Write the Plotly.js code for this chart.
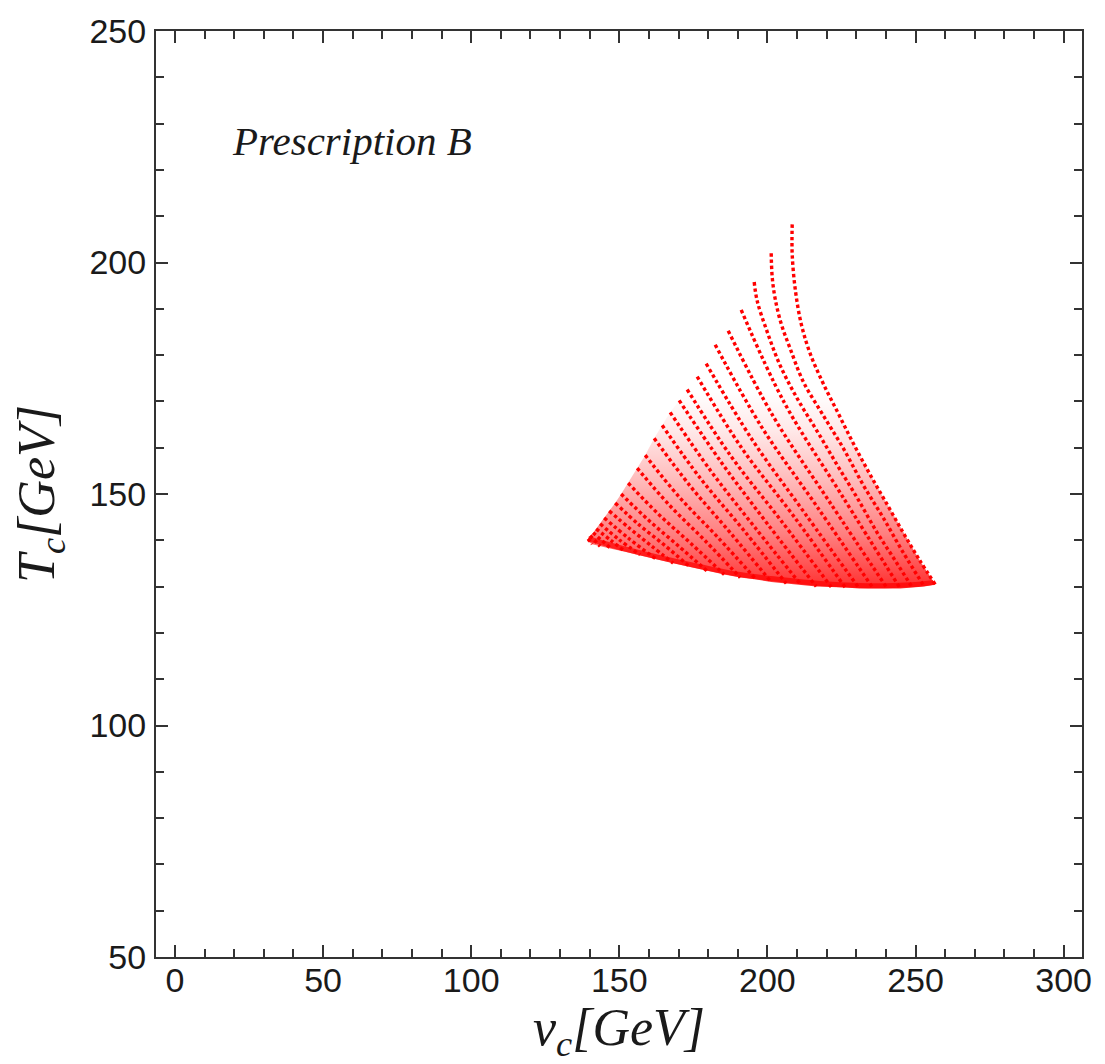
<!DOCTYPE html>
<html>
<head>
<meta charset="utf-8">
<script src="https://cdn.plot.ly/plotly-3.0.1.min.js"></script>
<style>
html,body{margin:0;padding:0;background:#fff;}
#chart{width:1105px;height:1064px;}
</style>
</head>
<body>
<div id="chart"></div>
<script>
// v_c [GeV] and T_c [GeV] along each scanned curve
const vcCurves = [
  [208.37,208.37,209.39,211.41,214.45,218.84,223.91,228.97,234.38,240.12,245.86,251.26,256.67],
  [201.28,201.62,202.63,204.66,207.70,212.09,218.84,225.60,232.35,239.11,245.86,252.95],
  [195.54,196.55,199.93,204.32,210.06,216.82,223.57,230.33,237.08,243.16,248.90],
  [191.15,205.67,225.26,244.85],
  [186.76,201.96,221.21,240.46],
  [182.37,197.90,216.82,235.73],
  [179.33,194.53,212.76,231.00],
  [176.29,191.15,209.05,226.27],
  [172.91,187.43,204.66,221.54],
  [170.21,184.40,200.27,216.48],
  [167.17,180.68,195.88,211.41],
  [164.47,177.30,192.16,206.35],
  [161.77,173.93,187.77,201.28],
  [158.73,170.21,183.38,196.22],
  [156.03,166.83,178.99,190.81],
  [152.99,163.12,174.26,185.41],
  [150.62,159.74,169.87,179.67],
  [148.60,156.70,165.48,173.93],
  [146.57,153.66,160.75,168.18],
  [144.88,153.32,162.44],
  [143.53,149.95,157.04],
  [142.18,147.08,151.97],
  [141.17,147.25],
  [140.15,143.53],
  [139.48,140.83]
];
const tcCurves = [
  [208.24,201.80,194.27,186.75,180.31,173.86,167.41,160.96,154.52,148.07,141.62,135.82,130.45],
  [202.01,196.85,192.13,186.75,181.38,174.29,166.98,159.89,151.94,144.85,137.33,130.02],
  [195.78,191.70,185.03,177.73,170.63,163.54,156.24,149.14,141.62,135.61,129.80],
  [189.76,169.78,149.57,129.59],
  [185.25,166.77,148.07,129.59],
  [182.24,164.62,147.21,129.59],
  [178.16,162.04,145.71,129.59],
  [175.36,160.10,145.06,129.80],
  [172.57,158.39,144.20,129.91],
  [170.21,156.88,143.34,130.02],
  [167.63,155.16,142.70,130.34],
  [164.83,153.44,142.05,130.66],
  [162.04,151.72,141.41,130.98],
  [158.39,149.36,140.55,131.52],
  [155.59,147.64,139.90,131.95],
  [152.37,145.71,139.26,132.60],
  [150.00,144.42,138.83,133.35],
  [148.07,143.34,138.83,134.21],
  [146.35,142.48,138.83,135.07],
  [144.85,140.33,135.93],
  [143.56,140.12,136.90],
  [142.48,140.01,137.54],
  [141.62,138.18],
  [140.98,138.72],
  [140.33,139.15]
];
// outline of the scanned region: upper-left edge, right edge, lower edge
const vcOutline = [139.14,140.15,141.17,142.18,143.53,144.88,146.57,148.60,150.62,152.99,156.03,158.73,161.77,164.47,167.17,170.21,172.91,176.29,179.33,182.37,186.76,191.15,195.54,201.28,208.37,
  208.37,209.39,211.41,214.45,218.84,223.91,228.97,234.38,240.12,245.86,251.26,256.67,
  252.95,248.90,244.85,240.46,235.73,231.00,226.27,221.54,216.48,211.41,206.35,201.28,196.22,190.81,185.41,179.67,173.93,168.18,162.44,157.04,151.97,147.25,143.53,140.83,139.14];
const tcOutline = [139.90,140.98,141.62,142.48,143.56,144.85,146.35,148.07,150.00,152.37,155.59,158.39,162.04,164.83,167.63,170.21,172.57,175.36,178.16,182.24,185.25,189.76,195.78,202.01,208.24,
  201.80,194.27,186.75,180.31,173.86,167.41,160.96,154.52,148.07,141.62,135.82,130.45,
  130.02,129.80,129.59,129.59,129.59,129.59,129.80,129.91,130.02,130.34,130.66,130.98,131.52,131.95,132.60,133.35,134.21,135.07,135.93,136.90,137.54,138.18,138.72,139.15,139.90];
// dense band along the lower edge
const vcBand = [139.48,150.29,163.79,177.30,190.81,204.32,217.83,231.34,242.48,249.91,255.99];
const tcBand = [140.33,138.40,136.25,134.32,132.60,131.52,130.66,130.23,130.23,130.45,130.88];

const xTicks = [0,50,100,150,200,250,300];
const yTicks = [50,100,150,200,250];

const RED = 'rgb(255,0,0)';
const traces = [];
traces.push({x: vcOutline, y: tcOutline, mode: 'lines', fill: 'toself',
  line: {width: 0, color: 'rgba(255,0,0,0)'},
  fillcolor: 'rgba(255,0,0,0.3)',
  fillgradient: {type: 'vertical', start: 129.5, stop: 172,
    colorscale: [[0, 'rgba(255,0,0,0.82)'], [0.1, 'rgba(255,0,0,0.7)'], [0.28, 'rgba(255,0,0,0.5)'],
                 [0.55, 'rgba(255,0,0,0.27)'], [0.8, 'rgba(255,0,0,0.09)'], [1, 'rgba(255,0,0,0)']]},
  hoverinfo: 'skip'});
traces.push({x: vcBand, y: tcBand, mode: 'lines', line: {color: RED, width: 5, shape: 'spline'}, opacity: 0.7, hoverinfo: 'skip'});
for (let i = 0; i < vcCurves.length; i++) {
  traces.push({x: vcCurves[i], y: tcCurves[i], mode: 'lines',
    line: {color: RED, width: 3.4, dash: '3.4px,2.8px', shape: 'spline', smoothing: 1}, hoverinfo: 'skip'});
}

const TXT = '#1a1a1a';
const axisCommon = {
  showline: true, linewidth: 2, linecolor: '#333', mirror: 'allticks',
  ticks: 'inside', ticklen: 12, tickwidth: 2, tickcolor: '#333',
  showgrid: false, zeroline: false,
  tickfont: {family: 'Liberation Sans, Arial, sans-serif', size: 34, color: TXT},
  minor: {dtick: 10, ticks: 'inside', ticklen: 8, tickwidth: 2, tickcolor: '#333', showgrid: false}
};
const layout = {
  width: 1105, height: 1064,
  margin: {l: 156, r: 23, t: 31, b: 107},
  paper_bgcolor: '#fff', plot_bgcolor: '#fff',
  showlegend: false,
  xaxis: Object.assign({}, axisCommon, {
    range: [-6.4, 306.2], tickvals: xTicks, ticktext: xTicks.map(String),
    ticklabelstandoff: -8,
    title: {text: '<i>v<sub>c</sub>[GeV]</i>', font: {family: 'Liberation Serif, Times New Roman, serif', size: 52, color: TXT}, standoff: 8}
  }),
  yaxis: Object.assign({}, axisCommon, {
    range: [50, 250], tickvals: yTicks, ticktext: yTicks.map(String),
    ticklabelstandoff: 1,
    title: {text: '<i>T<sub>c</sub>[GeV]</i>', font: {family: 'Liberation Serif, Times New Roman, serif', size: 52, color: TXT}, standoff: 18}
  }),
  annotations: [{
    x: 18.6, y: 226.3, xref: 'x', yref: 'y', xanchor: 'left', yanchor: 'middle',
    text: '<i>Prescription B</i>', showarrow: false,
    font: {family: 'Liberation Serif, Times New Roman, serif', size: 41, color: TXT}
  }]
};
Plotly.newPlot('chart', traces, layout, {displayModeBar: false, staticPlot: true});
</script>
</body>
</html>
